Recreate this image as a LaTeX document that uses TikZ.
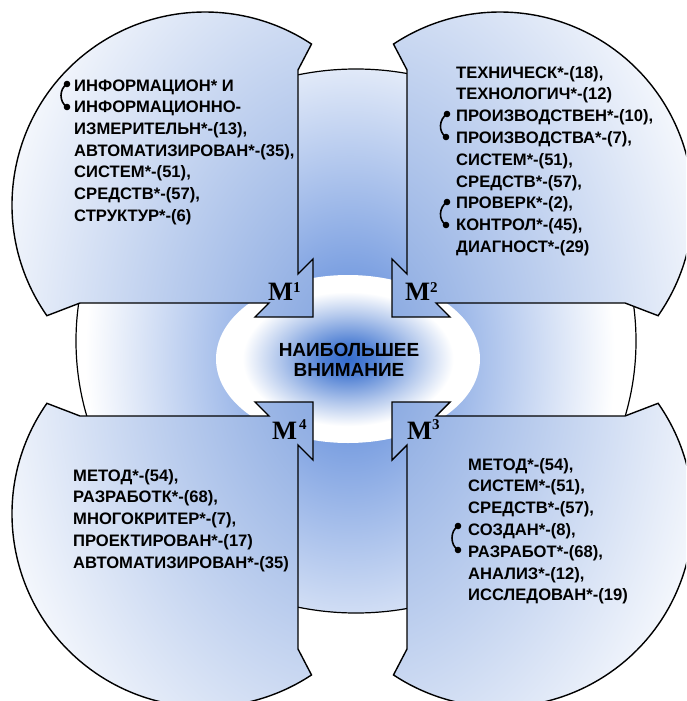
\documentclass[tikz,border=0pt]{standalone}
\usepackage{fontspec}
\setmainfont{Liberation Sans}
\newfontfamily\labelserif{Liberation Serif}

\definecolor{qblue}{RGB}{125,160,222}
\definecolor{ringblue}{RGB}{110,150,222}
\definecolor{glowblue}{RGB}{52,108,205}

% radial fills: quadrants, outer ring, central glow (25bp = edge of the shaded path)
\pgfdeclareradialshading{quadglow}{\pgfpoint{0bp}{0bp}}{color(0bp)=(qblue); color(25bp)=(white); color(50bp)=(white)}
\pgfdeclareradialshading{ringglow}{\pgfpoint{0bp}{0bp}}{color(0bp)=(ringblue); color(4bp)=(ringblue); color(25bp)=(white); color(50bp)=(white)}
\pgfdeclareradialshading{coreglow}{\pgfpoint{0bp}{0bp}}{color(0bp)=(glowblue); color(5bp)=(glowblue!85!white); color(13bp)=(glowblue!38!white); color(20bp)=(white); color(25bp)=(white); color(50bp)=(white)}

% outer ring outline
\def\ringshape{(356,-341) ellipse [x radius=280, y radius=272]}

% one quadrant: circular sector with a corner arrow pointing to the centre
\def\quadshape{([shift={(215:193)}]205,-205) arc[start angle=215, end angle=56.5, radius=193]
  -- (298,-70) -- (298,-274) -- (313,-259) -- (313,-317) -- (255,-317) -- (269,-303) -- (80,-303) -- cycle}

\newcommand\drawquad{%
  \begin{scope}
    \clip \quadshape;
    \shade[shading=quadglow] (352.5,-359.5) ellipse [x radius=400, y radius=560];
  \end{scope}
  \draw[quadline] \quadshape;
}

\begin{document}
\begin{tikzpicture}[x=1pt, y=1pt,
  quadline/.style={draw=black, line width=1.4pt, line join=miter},
  listtext/.style={anchor=base west, inner sep=0pt, font=\bfseries\fontsize{16.6}{18}\selectfont},
  mlabel/.style={anchor=base west, inner sep=0pt, font=\labelserif\bfseries\fontsize{26.5}{27}\selectfont},
  linkline/.style={line width=1.6pt}]

\useasboundingbox (0,0) rectangle (686,-701);
\clip (0,0) rectangle (686,-701);
\fill[white] (0,0) rectangle (686,-701);

% outer ring
\begin{scope}
  \clip \ringshape;
  \shade[shading=ringglow] (350,-358) ellipse [x radius=265, y radius=350];
\end{scope}
\draw[line width=1.2pt] \ringshape;

% central glow
\shade[shading=coreglow] (348,-359) ellipse [x radius=132, y radius=84];

% four quadrants
\begin{scope} \drawquad \end{scope}
\begin{scope}[shift={(705,0)}, xscale=-1] \drawquad \end{scope}
\begin{scope}[shift={(0,-719)}, yscale=-1] \drawquad \end{scope}
\begin{scope}[shift={(705,-719)}, scale=-1] \drawquad \end{scope}

% centre caption
\node[align=center, inner sep=0pt, font=\bfseries\fontsize{19}{20}\selectfont] (focus) at (349,-360) {НАИБОЛЬШЕЕ\\ВНИМАНИЕ};

% quadrant labels
\node[mlabel] (lab1) at (268,-300) {M\raisebox{7.5pt}{\fontsize{15}{15}\selectfont 1}};
\node[mlabel] (lab2) at (405,-300) {M\raisebox{7.5pt}{\fontsize{15}{15}\selectfont 2}};
\node[mlabel] (lab4) at (272,-439) {M\hspace{2pt}\raisebox{10pt}{\fontsize{15}{15}\selectfont 4}};
\node[mlabel] (lab3) at (407,-439) {M\raisebox{10pt}{\fontsize{15}{15}\selectfont 3}};

% word lists
\foreach \t [count=\i from 0] in {{ИНФОРМАЦИОН* И},{ИНФОРМАЦИОННО-},{ИЗМЕРИТЕЛЬН*-(13),},{АВТОМАТИЗИРОВАН*-(35),},{СИСТЕМ*-(51),},{СРЕДСТВ*-(57),},{СТРУКТУР*-(6)}}
  \node[listtext] (a\i) at (74,{-(91+21.7*\i)}) {\t};

\foreach \t [count=\i from 0] in {{ТЕХНИЧЕСК*-(18),},{ТЕХНОЛОГИЧ*-(12)},{ПРОИЗВОДСТВЕН*-(10),},{ПРОИЗВОДСТВА*-(7),},{СИСТЕМ*-(51),},{СРЕДСТВ*-(57),},{ПРОВЕРК*-(2),},{КОНТРОЛ*-(45),},{ДИАГНОСТ*-(29)}}
  \node[listtext] (b\i) at (456,{-(78+21.8*\i)}) {\t};

\foreach \t [count=\i from 0] in {{МЕТОД*-(54),},{СИСТЕМ*-(51),},{СРЕДСТВ*-(57),},{СОЗДАН*-(8),},{РАЗРАБОТ*-(68),},{АНАЛИЗ*-(12),},{ИССЛЕДОВАН*-(19)}}
  \node[listtext] (c\i) at (468,{-(470+21.8*\i)}) {\t};

\foreach \t [count=\i from 0] in {{МЕТОД*-(54),},{РАЗРАБОТК*-(68),},{МНОГОКРИТЕР*-(7),},{ПРОЕКТИРОВАН*-(17)},{АВТОМАТИЗИРОВАН*-(35)}}
  \node[listtext] (d\i) at (73,{-(481+21.75*\i)}) {\t};

% linked-term markers
\coordinate (p1a) at (67,-84);  \coordinate (p1b) at (67,-107);
\coordinate (p2a) at (447,-114); \coordinate (p2b) at (446,-137);
\coordinate (p3a) at (447,-202); \coordinate (p3b) at (446,-225);
\coordinate (p4a) at (458,-526); \coordinate (p4b) at (458,-550);
\foreach \p in {p1,p2,p3,p4} {
  \draw[linkline] (\p a) .. controls +(-8,-5) and +(-8,5) .. (\p b);
  \fill (\p a) circle (3.3);
  \fill (\p b) circle (3.3);
}
\end{tikzpicture}
\end{document}
